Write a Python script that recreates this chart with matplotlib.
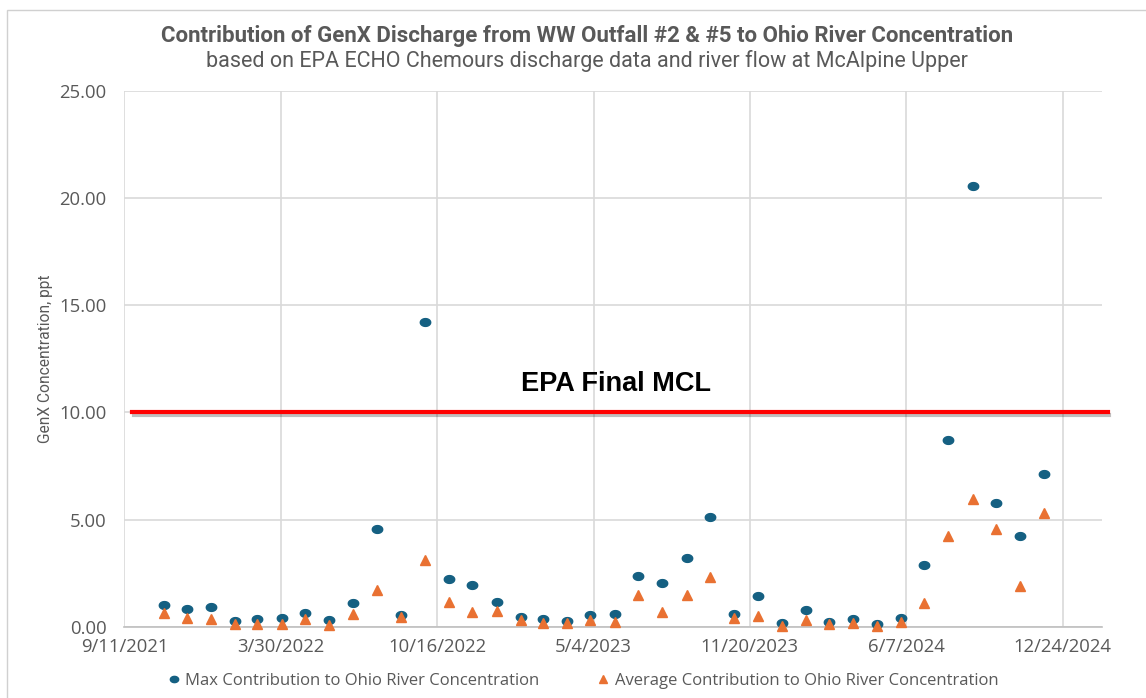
import matplotlib
matplotlib.use("Agg")
import matplotlib.pyplot as plt
import matplotlib.patheffects as pe
from matplotlib.path import Path
from matplotlib.patches import Rectangle
import numpy as np
import pandas as pd

# month-end sample dates
dates = ["2021-10-31", "2021-11-30", "2021-12-31",
         "2022-01-31", "2022-02-28", "2022-03-31", "2022-04-30", "2022-05-31", "2022-06-30",
         "2022-07-31", "2022-08-31", "2022-09-30", "2022-10-31", "2022-11-30", "2022-12-31",
         "2023-01-31", "2023-02-28", "2023-03-31", "2023-04-30", "2023-05-31", "2023-06-30",
         "2023-07-31", "2023-08-31", "2023-09-30", "2023-10-31", "2023-11-30", "2023-12-31",
         "2024-01-31", "2024-02-29", "2024-03-31", "2024-04-30", "2024-05-31", "2024-06-30",
         "2024-07-31", "2024-08-31", "2024-09-30", "2024-10-31", "2024-11-30"]

max_contrib = [1.03, 0.85, 0.91,
               0.25, 0.38, 0.41, 0.66, 0.31, 1.10,
               4.58, 0.56, 14.20, 2.25, 1.97, 1.15,
               0.47, 0.38, 0.25, 0.55, 0.61, 2.39,
               2.02, 3.21, 5.13, 0.60, 1.44, 0.17,
               0.78, 0.20, 0.38, 0.13, 0.41, 2.86,
               8.73, 20.55, 5.79, 4.23, 7.15]

avg_contrib = [0.66, 0.39, 0.36,
               0.13, 0.13, 0.13, 0.36, 0.10, 0.58,
               1.72, 0.47, 3.13, 1.17, 0.69, 0.74,
               0.33, 0.16, 0.17, 0.30, 0.22, 1.49,
               0.70, 1.46, 2.30, 0.41, 0.49, 0.05,
               0.31, 0.11, 0.17, 0.05, 0.21, 1.10,
               4.23, 5.95, 4.54, 1.91, 5.32]

tick_dates = ["2021-09-11", "2022-03-30", "2022-10-16", "2023-05-04",
              "2023-11-20", "2024-06-07", "2024-12-24"]
x_start = "2021-09-11"
x_end = "2025-02-12"
mcl = 10.0

blue = "#156082"
orange = "#E97132"
grey_txt = "#595959"
grid_c = "#D9D9D9"

narrow = ["Roboto", "DejaVu Sans"]
plt.rcParams["font.family"] = ["Open Sans", "DejaVu Sans"]

# slightly wide ellipse marker like the screenshot
t = np.linspace(0, 2 * np.pi, 40)
ellipse = Path(np.column_stack([np.cos(t), 0.75 * np.sin(t)]), closed=True)

x = pd.to_datetime(dates)

fig = plt.figure(figsize=(11.46, 6.98), dpi=100)
ax = fig.add_axes([0.1086, 0.1021, 0.8527, 0.7675])

fig.patches.append(Rectangle((7 / 1146, -0.1), 1.2, 1.1 - 10 / 698,
                             transform=fig.transFigure, fill=False,
                             edgecolor="#D0D0D0", linewidth=1.0))

ax.plot(x, max_contrib, linestyle="none", marker=ellipse, markersize=7.5,
        color=blue, label="Max Contribution to Ohio River Concentration",
        clip_on=False, zorder=3)
ax.plot(x, avg_contrib, linestyle="none", marker="^", markersize=7,
        color=orange, label="Average Contribution to Ohio River Concentration",
        clip_on=False, zorder=4)

ax.axhline(mcl, xmin=0.008, xmax=1.006, color="#FF0000", linewidth=3.0,
           clip_on=False, zorder=5,
           path_effects=[pe.SimpleLineShadow(offset=(1, -1.5), alpha=0.25),
                         pe.Normal()])
ax.text(pd.Timestamp("2023-06-02"), 11.35, "EPA Final MCL", ha="center",
        va="center", fontsize=19.5, fontweight="bold",
        family=["Liberation Sans", "DejaVu Sans"], color="black")

ax.set_xlim(pd.Timestamp(x_start), pd.Timestamp(x_end))
ax.set_ylim(0, 25)
ax.set_yticks(np.arange(0, 26, 5))
ax.yaxis.set_major_formatter(matplotlib.ticker.FormatStrFormatter("%.2f"))
ax.set_xticks(pd.to_datetime(tick_dates))
ax.set_xticklabels([f"{d.month}/{d.day}/{d.year}" for d in pd.to_datetime(tick_dates)])

ax.grid(True, color=grid_c, linewidth=1.2)
ax.set_axisbelow(True)
for s in ["top", "right", "left"]:
    ax.spines[s].set_visible(False)
ax.spines["bottom"].set_color("#BFBFBF")
ax.spines["bottom"].set_linewidth(1.2)
ax.tick_params(length=0, labelsize=13.3, labelcolor=grey_txt)
ax.tick_params(axis="y", pad=13)
ax.tick_params(axis="x", pad=8)

ax.set_ylabel("GenX Concentration, ppt", family=narrow, fontsize=11.2,
              color=grey_txt)
ax.yaxis.set_label_coords(-0.073, 0.5)

fig.text(0.512, 0.949, "Contribution of GenX Discharge from WW Outfall #2 & #5 to Ohio River Concentration",
         ha="center", va="center", family=narrow, fontweight="bold",
         fontsize=16, color=grey_txt)
fig.text(0.512, 0.913, "based on EPA ECHO Chemours discharge data and river flow at McAlpine Upper",
         ha="center", va="center", family=narrow, fontsize=15.5, color=grey_txt)

leg = fig.legend(loc="center", bbox_to_anchor=(0.507, 0.024), ncol=2,
                 frameon=False, fontsize=12, handletextpad=0.1,
                 columnspacing=3.2, handlelength=1.2, markerscale=0.8)
for txt in leg.get_texts():
    txt.set_color(grey_txt)

fig.savefig("out.png", dpi=100)
